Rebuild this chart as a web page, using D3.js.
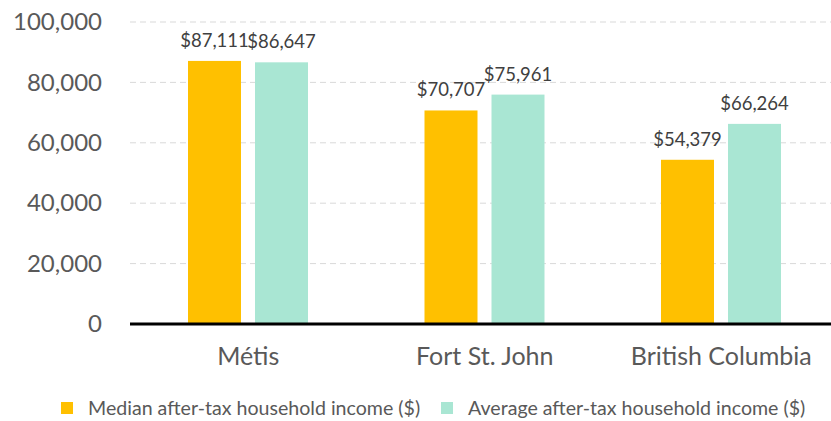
<!DOCTYPE html>
<html>
<head>
<meta charset="utf-8">
<script src="https://cdn.jsdelivr.net/npm/d3@7"></script>
<style>
  body { margin: 0; background: #fff; }
  svg { display: block; font-family: Lato, "Open Sans", sans-serif; }
</style>
</head>
<body>
<div id="chart-area"></div>
<script>
// data
const categories = ["Métis", "Fort St. John", "British Columbia"];
const seriesNames = ["Median after-tax household income ($)", "Average after-tax household income ($)"];
const medianValues = [87111, 70707, 54379];
const averageValues = [86647, 75961, 66264];
const yTicks = [0, 20000, 40000, 60000, 80000, 100000];

const colors = ["#FFC000", "#A9E6D3"];
const textColor = "#595959";

const W = 831, H = 421;
const margin = { left: 130, top: 22, right: -8.5, bottom: 97 };
const width = W - margin.left - margin.right;
const height = H - margin.top - margin.bottom;

const svg = d3.select("#chart-area").append("svg")
	.attr("width", W)
	.attr("height", H);

const g = svg.append("g")
	.attr("transform", `translate(${margin.left},${margin.top})`);

const y = d3.scaleLinear()
	.domain([0, 100000])
	.range([height, 0]);

const x0 = d3.scaleBand()
	.domain(categories)
	.range([0, width]);

const x1 = d3.scaleBand()
	.domain([0, 1])
	.range([58, 178])
	.paddingInner(0.209);

// gridlines
g.append("g")
	.selectAll("line")
	.data(yTicks.filter(d => d > 0))
	.enter().append("line")
	.attr("x1", 0)
	.attr("x2", W - margin.left)
	.attr("y1", d => y(d))
	.attr("y2", d => y(d))
	.attr("stroke", "#D9D9D9")
	.attr("stroke-width", 1)
	.attr("stroke-dasharray", "6,4");

// y axis labels
const yAxis = d3.axisLeft(y)
	.tickValues(yTicks)
	.tickSize(0)
	.tickPadding(28)
	.tickFormat(d3.format(","));
const yg = g.append("g").call(yAxis);
yg.select(".domain").remove();
yg.selectAll("text")
	.attr("font-size", "24px")
	.attr("fill", textColor)
	.attr("font-family", "Lato, sans-serif");

const rows = categories.map((c, i) => ({ cat: c, values: [medianValues[i], averageValues[i]] }));

const groups = g.selectAll(".group")
	.data(rows)
	.enter().append("g")
	.attr("class", "group")
	.attr("transform", d => `translate(${x0(d.cat)},0)`);

groups.selectAll("rect")
	.data(d => d.values.map((v, k) => ({ k, v })))
	.enter().append("rect")
	.attr("x", d => x1(d.k))
	.attr("width", x1.bandwidth())
	.attr("y", d => y(d.v))
	.attr("height", d => height - y(d.v))
	.attr("fill", d => colors[d.k]);

groups.selectAll(".val")
	.data(d => d.values.map((v, k) => ({ k, v })))
	.enter().append("text")
	.attr("class", "val")
	.attr("x", d => x1(d.k) + x1.bandwidth() / 2)
	.attr("y", d => y(d.v) - 14)
	.attr("text-anchor", "middle")
	.attr("font-size", "18.5px")
	.attr("fill", "#404040")
	.text(d => "$" + d3.format(",")(d.v));

// baseline
g.append("line")
	.attr("x1", 0)
	.attr("x2", W - margin.left)
	.attr("y1", height)
	.attr("y2", height)
	.attr("stroke", "#000")
	.attr("stroke-width", 3);

// category labels
const xAxis = d3.axisBottom(x0).tickSize(0).tickPadding(23);
const xg = g.append("g")
	.attr("transform", `translate(0,${height})`)
	.call(xAxis);
xg.select(".domain").remove();
xg.selectAll("text")
	.attr("font-size", "25px")
	.attr("fill", textColor)
	.attr("font-family", "Lato, sans-serif");

// legend
const legendX = [61, 441];
const legend = svg.append("g");
const items = legend.selectAll("g")
	.data(seriesNames)
	.enter().append("g")
	.attr("transform", (d, i) => `translate(${legendX[i]},402)`);
items.append("rect")
	.attr("width", 12)
	.attr("height", 12)
	.attr("fill", (d, i) => colors[i]);
items.append("text")
	.attr("x", 27)
	.attr("y", 13)
	.attr("font-size", "19.6px")
	.attr("fill", textColor)
	.text(d => d);
</script>
</body>
</html>
